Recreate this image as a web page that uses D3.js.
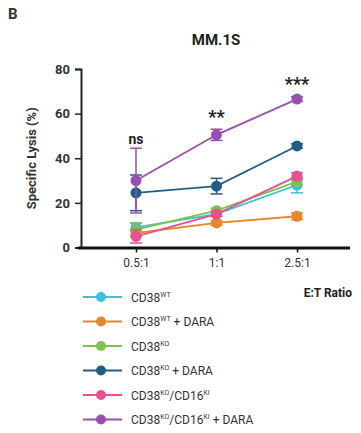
<!DOCTYPE html>
<html lang="en">
<head>
    <meta charset="UTF-8">
    <title>MM.1S specific lysis</title>
    <script src="https://d3js.org/d3.v7.min.js"></script>
    <style>
        body { margin: 0; background: #fff; }
        text { font-family: "Roboto", "Liberation Sans", sans-serif; }
    </style>
</head>
<body>
    <svg></svg>
    <script>
        const w = 361;
        const h = 433;

        const ratios = ['0.5:1', '1:1', '2.5:1'];
        const yTicks = [0, 20, 40, 60, 80];
        const sigLabels = ['ns', '**', '***'];
        const sigHeights = [46.5, 56, 70.5];

        const cd38wt = [9, 15, 28];
        const cd38wtErr = [2, 1, 3.5];
        const cd38wtDara = [6.5, 11, 14];
        const cd38wtDaraErr = [1.5, 1, 1.5];
        const cd38ko = [8, 16.5, 29.5];
        const cd38koErr = [3, 1, 1.5];
        const cd38koDara = [24.5, 27.5, 45.5];
        const cd38koDaraErr = [8, 3.5, 1];
        const cd38koCd16 = [5, 15, 32];
        const cd38koCd16Err = [3, 1, 1.5];
        const cd38koCd16Dara = [30, 50.5, 66.5];
        const cd38koCd16DaraErr = [14.5, 2.5, 1];

        const series = [
            { name: 'CD38', sup: 'WT', extra: '', color: '#3cc1dc', values: cd38wt, err: cd38wtErr },
            { name: 'CD38', sup: 'WT', extra: ' + DARA', color: '#e8862a', values: cd38wtDara, err: cd38wtDaraErr },
            { name: 'CD38', sup: 'KO', extra: '', color: '#7dc24a', values: cd38ko, err: cd38koErr },
            { name: 'CD38', sup: 'KO', extra: ' + DARA', color: '#1f5f87', values: cd38koDara, err: cd38koDaraErr },
            { name: 'CD38', sup: 'KO', extra: '/CD16', sup2: 'KI', tail: '', color: '#e8508f', values: cd38koCd16, err: cd38koCd16Err },
            { name: 'CD38', sup: 'KO', extra: '/CD16', sup2: 'KI', tail: ' + DARA', color: '#9a4fb0', values: cd38koCd16Dara, err: cd38koCd16DaraErr }
        ];

        const svg = d3.select('svg')
            .attr('width', w)
            .attr('height', h);

        const x = d3.scalePoint()
            .domain(ratios)
            .range([136, 297]);

        const y = d3.scaleLinear()
            .domain([0, 80])
            .range([247.5, 69]);

        // panel letter + title
        svg.append('text')
            .attr('x', 8).attr('y', 19)
            .attr('font-size', 15).attr('font-weight', 'bold')
            .attr('fill', '#333')
            .text('B');
        svg.append('text')
            .attr('x', 216).attr('y', 45)
            .attr('text-anchor', 'middle')
            .attr('font-size', 15).attr('font-weight', 'bold')
            .attr('fill', '#222')
            .text('MM.1S');

        // y axis
        const yAxis = svg.append('g')
            .attr('transform', 'translate(81, 0)')
            .call(d3.axisLeft(y).tickValues(yTicks).tickSize(6).tickPadding(5));
        yAxis.select('.domain').attr('stroke', '#222').attr('stroke-width', 2);
        yAxis.selectAll('.tick line').attr('stroke', '#222').attr('stroke-width', 1.5);
        yAxis.selectAll('text')
            .attr('font-size', 13).attr('font-weight', 'bold').attr('fill', '#333')
            .style('font-family', 'Roboto, sans-serif');

        // x axis
        const xAxis = svg.append('g')
            .attr('transform', `translate(0, ${y(0)})`)
            .call(d3.axisBottom(x).tickSize(5).tickPadding(6));
        xAxis.select('.domain')
            .attr('d', 'M78,0.5H350')
            .attr('stroke', '#111').attr('stroke-width', 3);
        xAxis.selectAll('.tick line').attr('stroke', '#111').attr('stroke-width', 1.5);
        xAxis.selectAll('text')
            .attr('font-size', 12).attr('fill', '#333')
            .style('font-family', 'Roboto, sans-serif');

        svg.append('text')
            .attr('transform', `translate(36, ${y(40)}) rotate(-90)`)
            .attr('text-anchor', 'middle')
            .attr('font-size', 13).attr('font-weight', 'bold').attr('fill', '#333')
            .text('Specific Lysis (%)');

        svg.append('text')
            .attr('x', 352).attr('y', 297)
            .attr('text-anchor', 'end')
            .attr('font-size', 12).attr('font-weight', 'bold').attr('fill', '#222')
            .text('E:T Ratio');

        const line = d3.line()
            .x((d, i) => x(ratios[i]))
            .y(d => y(d));

        const plot = svg.append('g');

        series.forEach(s => {
            const g = plot.append('g');
            // error bars
            s.values.forEach((v, i) => {
                const cx = x(ratios[i]);
                g.append('line')
                    .attr('x1', cx).attr('x2', cx)
                    .attr('y1', y(v - s.err[i])).attr('y2', y(v + s.err[i]))
                    .attr('stroke', s.color).attr('stroke-width', 1.5);
                [v - s.err[i], v + s.err[i]].forEach(e => {
                    g.append('line')
                        .attr('x1', cx - 6).attr('x2', cx + 6)
                        .attr('y1', y(e)).attr('y2', y(e))
                        .attr('stroke', s.color).attr('stroke-width', 1.5);
                });
            });
            g.append('path')
                .datum(s.values)
                .attr('fill', 'none')
                .attr('stroke', s.color)
                .attr('stroke-width', 1.8)
                .attr('d', line);
            g.selectAll('circle')
                .data(s.values)
                .enter()
                .append('circle')
                .attr('cx', (d, i) => x(ratios[i]))
                .attr('cy', d => y(d))
                .attr('r', 5.5)
                .attr('fill', s.color);
        });

        // significance marks
        svg.selectAll('.sig')
            .data(sigLabels)
            .enter()
            .append('text')
            .attr('class', 'sig')
            .attr('x', (d, i) => x(ratios[i]))
            .attr('y', (d, i) => y(sigHeights[i]))
            .attr('text-anchor', 'middle')
            .attr('font-size', (d, i) => i === 0 ? 14 : 18)
            .attr('font-weight', 'bold')
            .attr('fill', '#222')
            .text(d => d);

        // legend
        const legend = svg.append('g')
            .attr('transform', 'translate(83, 297)');
        series.forEach((s, i) => {
            const row = legend.append('g')
                .attr('transform', `translate(0, ${i * 24.5})`);
            row.append('line')
                .attr('x1', 0).attr('x2', 39)
                .attr('stroke', s.color).attr('stroke-width', 1.8);
            row.append('circle')
                .attr('cx', 18).attr('r', 5)
                .attr('fill', s.color);
            const t = row.append('text')
                .attr('x', 48).attr('y', 4.5)
                .attr('font-size', 12).attr('fill', '#333');
            t.append('tspan').text(s.name);
            t.append('tspan').attr('font-size', 7).attr('dy', -5).text(s.sup);
            t.append('tspan').attr('dy', 5).text(s.extra);
            if (s.sup2) {
                t.append('tspan').attr('font-size', 7).attr('dy', -5).text(s.sup2);
                t.append('tspan').attr('dy', 5).text(s.tail);
            }
        });
    </script>
</body>
</html>
